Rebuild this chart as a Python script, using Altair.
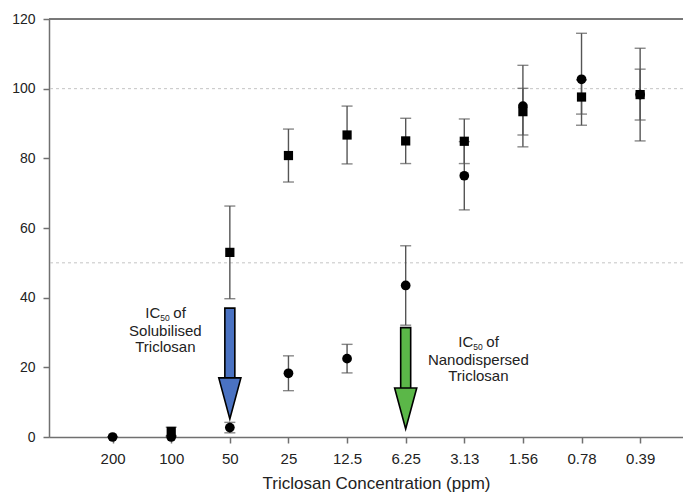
import altair as alt
import pandas as pd

# ---- data ----
conc_labels = ["200", "100", "50", "25", "12.5", "6.25", "3.13", "1.56", "0.78", "0.39"]
# square at 200 ppm is not visible in the reference (hidden / absent)
sq_mean = [None, 1.6, 53.0, 80.8, 86.7, 85.0, 84.9, 93.4, 97.6, 98.3]
sq_err = [None, 1.2, 13.3, 7.6, 8.3, 6.5, 6.4, 6.7, 4.9, 7.3]
ci_mean = [0.0, 0.0, 2.7, 18.3, 22.5, 43.5, 75.0, 95.0, 102.7, 98.3]
ci_err = [0.0, 0.0, 1.5, 5.0, 4.1, 11.4, 9.8, 11.7, 13.2, 13.3]

ref_lines = [50, 100]

# IC50 arrows (category index, shaft top, shaft bottom, head centre)
arrow_idx = [2, 5]
arrow_top = [37.0, 31.4]
arrow_bot = [16.0, 13.6]
arrow_head = [11.1, 8.2]
arrow_color = ["#4a72c2", "#5bb748"]

# annotations: x position (category index), baselines of the 3 lines
ann_x = [0.9, 6.24]
ann_line1 = [34.1, 25.8]
ann_line2 = ["Solubilised", "Nanodispersed"]
ann_line2_y = [28.9, 20.6]
ann_line3 = ["Triclosan", "Triclosan"]
ann_line3_y = [24.3, 16.0]

# ---- tables ----
rows = []
for i, lab in enumerate(conc_labels):
    rows.append(dict(idx=i, series="circle", mean=ci_mean[i],
                     lo=ci_mean[i] - ci_err[i], hi=ci_mean[i] + ci_err[i]))
for i, lab in enumerate(conc_labels):
    if sq_mean[i] is None:
        continue
    rows.append(dict(idx=i, series="square", mean=sq_mean[i],
                     lo=sq_mean[i] - sq_err[i], hi=sq_mean[i] + sq_err[i]))
df = pd.DataFrame(rows)
df_ci = df[df.series == "circle"]
df_sq = df[df.series == "square"]

ref_df = pd.DataFrame({"v": ref_lines})
arrows = pd.DataFrame({"idx": arrow_idx, "top": arrow_top, "bot": arrow_bot,
                       "head": arrow_head, "col": arrow_color})
ann1 = pd.DataFrame({"x": ann_x, "y": ann_line1})
ann_main = pd.DataFrame({"x": ann_x + ann_x, "y": ann_line2_y + ann_line3_y,
                         "t": ann_line2 + ann_line3})

FONT = "Liberation Sans"
AX = "#707070"
EB = "#555555"
TXT = "#222222"

label_arr = "[" + ",".join("'%s'" % s for s in conc_labels) + "]"
xscale = alt.Scale(domain=[-1, 9.646], nice=False, zero=False)
yscale = alt.Scale(domain=[0, 120], nice=False, zero=True)
xaxis = alt.Axis(values=list(range(len(conc_labels))),
                 labelExpr=label_arr + "[datum.value]",
                 title="Triclosan Concentration (ppm)",
                 titleFontSize=17, titleFontWeight="normal", titleColor=TXT,
                 titleFont=FONT, titleBaseline="alphabetic", titleY=51, titleX=327,
                 labelFontSize=15, labelColor=TXT, labelFont=FONT, labelPadding=8,
                 tickSize=6, tickColor=AX, tickWidth=1.5,
                 domainColor=AX, domainWidth=1.5, grid=False)
yaxis = alt.Axis(values=[0, 20, 40, 60, 80, 100, 120], title=None,
                 labelFontSize=14, labelColor=TXT, labelFont=FONT, labelPadding=8,
                 tickSize=6, tickColor=AX, tickWidth=1.5,
                 domainColor=AX, domainWidth=1.5, grid=False)


def X(field):
    return alt.X(field, type="quantitative", scale=xscale, axis=xaxis)


def Y(field):
    return alt.Y(field, type="quantitative", scale=yscale, axis=yaxis)


grid = alt.Chart(ref_df).mark_rule(color="#c4c4c4", strokeDash=[3, 3], strokeWidth=1).encode(
    y=Y("v"))
top = alt.Chart(ref_df).mark_rule(color=AX, strokeWidth=1.5).encode(
    y=alt.datum(120, scale=yscale))

bars = alt.Chart(df).mark_rule(color=EB, strokeWidth=1.4).encode(
    x=X("idx"), y=Y("lo"), y2="hi")
cap_lo = alt.Chart(df).mark_tick(orient="horizontal", size=11, thickness=1.4, color=EB).encode(
    x=X("idx"), y=Y("lo"))
cap_hi = alt.Chart(df).mark_tick(orient="horizontal", size=11, thickness=1.4, color=EB).encode(
    x=X("idx"), y=Y("hi"))

shaft = alt.Chart(arrows).mark_bar(size=10, stroke="black", strokeWidth=1.6).encode(
    x=X("idx"), y=Y("top"), y2="bot",
    color=alt.Color("col:N", scale=None))
head = alt.Chart(arrows).mark_point(
    shape="M -0.54 -1 L 0.54 -1 L 0 1 Z", size=1681, filled=True, opacity=1,
    stroke="black", strokeWidth=1.6).encode(
    x=X("idx"), y=Y("head"), fill=alt.Fill("col:N", scale=None))

squares = alt.Chart(df_sq).mark_point(shape="square", filled=True, size=85,
                                      color="black", opacity=1).encode(
    x=X("idx"), y=Y("mean"))
circles = alt.Chart(df_ci).mark_point(shape="circle", filled=True, size=95,
                                      color="black", opacity=1).encode(
    x=X("idx"), y=Y("mean"))

t_ic = alt.Chart(ann1).mark_text(text="IC", align="right", baseline="alphabetic",
                                 dx=-5, fontSize=15, font=FONT, color=TXT).encode(
    x=X("x"), y=Y("y"))
t_sub = alt.Chart(ann1).mark_text(text="50", align="left", baseline="alphabetic",
                                  dx=-5, dy=3, fontSize=8.5, font=FONT, color=TXT).encode(
    x=X("x"), y=Y("y"))
t_of = alt.Chart(ann1).mark_text(text="of", align="left", baseline="alphabetic",
                                 dx=8, fontSize=15, font=FONT, color=TXT).encode(
    x=X("x"), y=Y("y"))
t_main = alt.Chart(ann_main).mark_text(align="center", baseline="alphabetic",
                                       fontSize=15, font=FONT, color=TXT).encode(
    x=X("x"), y=Y("y"), text="t:N")

chart = alt.layer(grid, top, bars, cap_lo, cap_hi, shaft, head, squares, circles,
                  t_ic, t_sub, t_of, t_main).properties(
    width=634, height=418,
    autosize=alt.AutoSizeParams(type="none"),
    padding={"left": 41, "top": 11, "right": 0, "bottom": 55},
    background="white",
).configure_view(stroke=None).configure(font=FONT)

chart.save("out.html", embed_options={"renderer": "svg", "actions": False})
